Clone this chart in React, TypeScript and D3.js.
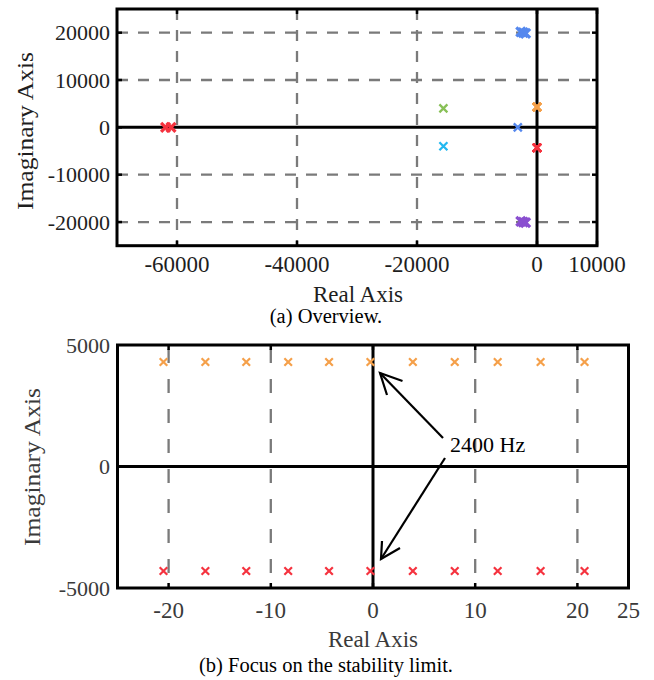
import React from 'react';
import * as d3 from 'd3';

// ---------- data ----------
const overviewXTicks = [-60000, -40000, -20000, 0, 10000];
const overviewYTicks = [-20000, -10000, 0, 10000, 20000];
const focusXTicks = [-20, -10, 0, 10, 20, 25];
const focusYTicks = [-5000, 0, 5000];

// real parts of the poles near the stability limit (focus view)
const stabilityRe = [-20.5, -16.4, -12.4, -8.3, -4.3, -0.25, 3.9, 8.0, 12.2, 16.4, 20.7];
const upperImag = 4300; // orange poles
const lowerImag = -4300; // red poles

// overview poles [real, imag]
const blueHigh = [[-2700, 20150], [-2300, 20000], [-1900, 19850]];
const purpleLow = [[-2700, -19850], [-2300, -20000], [-1900, -20150]];
const greenPole = [[-15600, 4000]];
const cyanPole = [[-15600, -4000]];
const blueReal = [[-3200, 0]];
const redReal = [[-61900, 0], [-61000, 0]];

const annotation = '2400 Hz';

// ---------- styles ----------
const FONT = '"Liberation Serif", "Times New Roman", serif';
const COLORS = {
  blue: '#5588ee',
  purple: '#8a4fd0',
  green: '#88c057',
  cyan: '#22b8f0',
  orange: '#f5a04a',
  red: '#f5333f',
};

function Cross({ cx, cy, s, color, w }: { cx: number; cy: number; s: number; color: string; w: number }) {
  return (
    <path
      d={`M${cx - s},${cy - s}L${cx + s},${cy + s}M${cx - s},${cy + s}L${cx + s},${cy - s}`}
      stroke={color}
      strokeWidth={w}
      fill="none"
    />
  );
}

export default function App() {
  // ---- overview panel ----
  const x1 = d3.scaleLinear().domain([-70000, 10000]).range([117, 597]);
  const y1 = d3.scaleLinear().domain([-25000, 25000]).range([245.7, 9]);
  // ---- focus panel ----
  const x2 = d3.scaleLinear().domain([-25, 25]).range([117.5, 628.5]);
  const y2 = d3.scaleLinear().domain([-5000, 5000]).range([588, 345]);

  const tickLen = 5;
  const dark = '#1e1e1e';
  const gray2 = '#3a3a3a';
  const TICK_FS = 23;

  const overviewSeries: { pts: number[][]; color: string; big: boolean }[] = [
    { pts: redReal, color: COLORS.red, big: true },
    { pts: greenPole, color: COLORS.green, big: false },
    { pts: cyanPole, color: COLORS.cyan, big: false },
    { pts: blueReal, color: COLORS.blue, big: false },
    { pts: blueHigh, color: COLORS.blue, big: true },
    { pts: purpleLow, color: COLORS.purple, big: true },
    { pts: stabilityRe.map((r) => [r, upperImag]), color: COLORS.orange, big: false },
    { pts: stabilityRe.map((r) => [r, lowerImag]), color: COLORS.red, big: false },
  ];

  const [x1a, x1b] = x1.range();
  const [y1b, y1a] = y1.range();
  const [x2a, x2b] = x2.range();
  const [y2b, y2a] = y2.range();

  return (
    <svg width={654} height={680} style={{ position: 'absolute', left: 0, top: 0, background: '#fff' }}>
      {/* ===================== (a) Overview ===================== */}
      <g>
        {overviewXTicks.filter((t) => t !== 0 && t !== 10000).map((t) => (
          <line key={'gx' + t} x1={x1(t)} x2={x1(t)} y1={y1a} y2={y1b} stroke="#7a7a7a" strokeWidth={2.3} strokeDasharray="11,10" />
        ))}
        {overviewYTicks.filter((t) => t !== 0).map((t) => (
          <line key={'gy' + t} x1={x1a} x2={x1b} y1={y1(t)} y2={y1(t)} stroke="#7a7a7a" strokeWidth={2.3} strokeDasharray="11,10" />
        ))}
        <line x1={x1a} x2={x1b} y1={y1(0)} y2={y1(0)} stroke="#000" strokeWidth={3} />
        <line x1={x1(0)} x2={x1(0)} y1={y1a} y2={y1b} stroke="#000" strokeWidth={3} />
        {overviewSeries.map((s, i) =>
          s.pts.map((p, j) => (
            <Cross key={`o${i}-${j}`} cx={x1(p[0])} cy={y1(p[1])} s={s.big ? 4.5 : 4} w={s.big ? 3.2 : 2.3} color={s.color} />
          ))
        )}
        <rect x={x1a} y={y1a} width={x1b - x1a} height={y1b - y1a} fill="none" stroke="#000" strokeWidth={3} />
        {overviewXTicks.map((t) => (
          <g key={'tx' + t}>
            <line x1={x1(t)} x2={x1(t)} y1={y1a} y2={y1a + tickLen} stroke="#000" strokeWidth={2.5} />
            <line x1={x1(t)} x2={x1(t)} y1={y1b} y2={y1b - tickLen} stroke="#000" strokeWidth={2.5} />
          </g>
        ))}
        {overviewYTicks.map((t) => (
          <g key={'ty' + t}>
            <line x1={x1a} x2={x1a + tickLen} y1={y1(t)} y2={y1(t)} stroke="#000" strokeWidth={2.5} />
            <line x1={x1b} x2={x1b - tickLen} y1={y1(t)} y2={y1(t)} stroke="#000" strokeWidth={2.5} />
          </g>
        ))}
        {overviewXTicks.map((t) => (
          <text key={'lx' + t} x={x1(t)} y={272} textAnchor="middle" fontFamily={FONT} fontSize={TICK_FS} fill={dark}>
            {String(t)}
          </text>
        ))}
        {overviewYTicks.map((t) => (
          <text key={'ly' + t} x={110} y={y1(t)} dy="0.35em" textAnchor="end" fontFamily={FONT} fontSize={22} fill={dark}>
            {String(t)}
          </text>
        ))}
        <text x={358} y={302} textAnchor="middle" fontFamily={FONT} fontSize={23} fill={dark}>Real Axis</text>
        <text transform={`translate(33,${131}) rotate(-90)`} textAnchor="middle" fontFamily={FONT} fontSize={23} textLength={158} lengthAdjust="spacingAndGlyphs" fill={dark}>Imaginary Axis</text>
        <text x={326} y={323} textAnchor="middle" fontFamily={FONT} fontSize={20.5} fill="#000">(a) Overview.</text>
      </g>

      {/* ===================== (b) Focus ===================== */}
      <g>
        {focusXTicks.filter((t) => t !== 0 && t !== 25).map((t) => (
          <line key={'fgx' + t} x1={x2(t)} x2={x2(t)} y1={y2a} y2={y2b} stroke="#7a7a7a" strokeWidth={2.3} strokeDasharray="14,16" strokeDashoffset={-4} />
        ))}
        <line x1={x2a} x2={x2b} y1={y2(0)} y2={y2(0)} stroke="#000" strokeWidth={3} />
        <line x1={x2(0)} x2={x2(0)} y1={y2a} y2={y2b} stroke="#000" strokeWidth={3} />
        {stabilityRe.map((r, i) => (
          <Cross key={'fo' + i} cx={x2(r)} cy={y2(upperImag)} s={3.8} w={2.2} color={COLORS.orange} />
        ))}
        {stabilityRe.map((r, i) => (
          <Cross key={'fr' + i} cx={x2(r)} cy={y2(lowerImag)} s={3.8} w={2.2} color={COLORS.red} />
        ))}
        <rect x={x2a} y={y2a} width={x2b - x2a} height={y2b - y2a} fill="none" stroke="#000" strokeWidth={3} />
        {focusXTicks.map((t) => (
          <g key={'ftx' + t}>
            <line x1={x2(t)} x2={x2(t)} y1={y2a} y2={y2a + tickLen} stroke="#000" strokeWidth={2.5} />
            <line x1={x2(t)} x2={x2(t)} y1={y2b} y2={y2b - tickLen} stroke="#000" strokeWidth={2.5} />
          </g>
        ))}
        {focusXTicks.map((t) => (
          <text key={'flx' + t} x={x2(t)} y={618} textAnchor="middle" fontFamily={FONT} fontSize={TICK_FS} fill={gray2}>
            {String(t)}
          </text>
        ))}
        {focusYTicks.map((t) => (
          <text key={'fly' + t} x={110} y={y2(t)} dy="0.35em" textAnchor="end" fontFamily={FONT} fontSize={22} fill={gray2}>
            {String(t)}
          </text>
        ))}
        <text x={x2(0)} y={647} textAnchor="middle" fontFamily={FONT} fontSize={23} fill={gray2}>Real Axis</text>
        <text transform={`translate(40,${467}) rotate(-90)`} textAnchor="middle" fontFamily={FONT} fontSize={23} textLength={158} lengthAdjust="spacingAndGlyphs" fill={gray2}>Imaginary Axis</text>
        <text x={326} y={672} textAnchor="middle" fontFamily={FONT} fontSize={20.5} fill="#000">(b) Focus on the stability limit.</text>

        <g stroke="#000" strokeWidth={2.2} fill="none">
          <line x1={443} y1={438} x2={380} y2={373} />
          <polyline points="402.5,381 380,373 387,395" />
          <line x1={445} y1={458} x2={381} y2={559} />
          <polyline points="400,548 381,559 382,541" />
        </g>
        <text x={450} y={452} fontFamily={FONT} fontSize={22} fill="#000">{annotation}</text>
      </g>
    </svg>
  );
}
